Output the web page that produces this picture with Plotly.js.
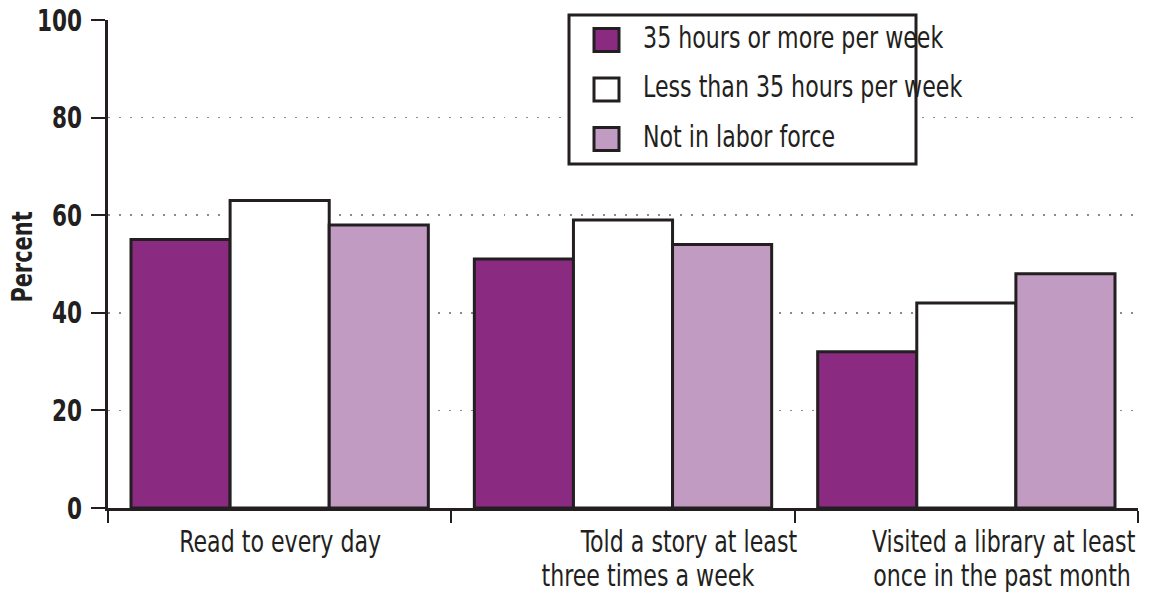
<!DOCTYPE html>
<html>
<head>
<meta charset="utf-8">
<script src="https://cdn.plot.ly/plotly-3.0.1.min.js"></script>
<style>
  html, body { margin: 0; padding: 0; background: #ffffff; }
  #chart { width: 1152px; height: 593px; }
  /* narrow the tick numbers to a condensed look */
  #chart g.ytick { transform-box: fill-box; transform-origin: right center; transform: translateX(-3px) scaleX(0.8); }
</style>
</head>
<body>
<div id="chart"></div>
<script>
// Activities with children, by parent's work status (percent)
var categories = ["Read to every day", "Told a story at least three times a week", "Visited a library at least once in the past month"];
var categoryLines = [
  ["Read to every day"],
  ["Told a story at least", "three times a week"],
  ["Visited a library at least", "once in the past month"]
];
var seriesNames = ["35 hours or more per week", "Less than 35 hours per week", "Not in labor force"];
var fullTime = [55, 51, 32];
var partTime = [63, 59, 42];
var notInLaborForce = [58, 54, 48];
var yTicks = [0, 20, 40, 60, 80, 100];

var seriesValues = [fullTime, partTime, notInLaborForce];
var seriesColors = ["#8a2a80", "#ffffff", "#c19bc2"];
var ink = "#231f20";
var fontFamily = "'DejaVu Sans Condensed', 'DejaVu Sans', sans-serif";

var W = 1152, H = 593;
var margin = { l: 108, r: 14, t: 20, b: 85 };
var plotW = W - margin.l - margin.r;
var plotH = H - margin.t - margin.b;

// pixel -> paper helpers for the hand-built legend box
function px(xPix) { return (xPix - margin.l) / plotW; }
function py(yPix) { return (H - margin.b - yPix) / plotH; }

var traces = seriesValues.map(function (vals, i) {
  return {
    type: "bar",
    name: seriesNames[i],
    x: categories,
    y: vals,
    marker: { color: seriesColors[i], line: { color: ink, width: 3 } },
    showlegend: false,
    hoverinfo: "y+name"
  };
});

// category labels, one annotation per line, nudged horizontally
var lineShift = [[0], [65, 25], [37, 36]];
var annotations = [];
var annoOrigin = [];
categoryLines.forEach(function (lines, ci) {
  lines.forEach(function (txt, li) {
    annotations.push({
      xref: "x", yref: "paper",
      x: categories[ci], y: 0,
      xanchor: "center", yanchor: "middle",
      xshift: lineShift[ci][li],
      yshift: -33 - li * 34,
      text: txt, showarrow: false,
      font: { family: fontFamily, size: 30, color: ink }
    });
    annoOrigin.push("center center");
  });
});

// legend: framed box with square swatches
var legendBox = { x0: 569, x1: 916, y0: 15, y1: 164 };
var rowCenters = [40, 89.5, 139];
var shapes = [{
  type: "rect", xref: "paper", yref: "paper", layer: "above",
  x0: px(legendBox.x0), x1: px(legendBox.x1), y0: py(legendBox.y1), y1: py(legendBox.y0),
  line: { color: ink, width: 3 }, fillcolor: "#ffffff"
}];
seriesNames.forEach(function (name, i) {
  var cy = rowCenters[i];
  shapes.push({
    type: "rect", xref: "paper", yref: "paper", layer: "above",
    x0: px(594), x1: px(619), y0: py(cy + 11.5), y1: py(cy - 11.5),
    line: { color: ink, width: 3 }, fillcolor: seriesColors[i]
  });
  annotations.push({
    xref: "paper", yref: "paper",
    x: px(641), y: py(cy - 3),
    xanchor: "left", yanchor: "middle",
    text: name, showarrow: false,
    font: { family: fontFamily, size: 30, color: ink }
  });
  annoOrigin.push("left center");
});

var layout = {
  width: W, height: H,
  margin: margin,
  paper_bgcolor: "#ffffff",
  plot_bgcolor: "#ffffff",
  barmode: "group",
  bargap: 0.134,
  bargroupgap: 0,
  font: { family: fontFamily, color: ink },
  xaxis: {
    type: "category",
    range: [-0.5, 2.5],
    tickson: "boundaries",
    ticks: "outside", ticklen: 12, tickwidth: 2, tickcolor: ink,
    showticklabels: false,
    showgrid: false, zeroline: false,
    showline: true, linecolor: ink, linewidth: 3
  },
  yaxis: {
    range: [0, 100],
    tickvals: yTicks,
    ticks: "outside", ticklen: 14, tickwidth: 2, tickcolor: ink,
    tickfont: { family: fontFamily, size: 30, weight: "bold", color: ink },
    showgrid: true, gridcolor: "#8a8a8a", gridwidth: 1.5, griddash: "1.5px,9.5px",
    zeroline: false,
    showline: true, linecolor: ink, linewidth: 3,
    title: { text: "Percent", font: { family: fontFamily, size: 28, weight: "bold", color: ink }, standoff: 6 }
  },
  shapes: shapes,
  annotations: annotations
};

Plotly.newPlot("chart", traces, layout, { displayModeBar: false, staticPlot: true }).then(function (gd) {
  // condense annotation text horizontally around its anchor
  var texts = gd.querySelectorAll(".annotation .annotation-text");
  texts.forEach(function (t, i) {
    t.style.transformBox = "fill-box";
    t.style.transformOrigin = annoOrigin[i] || "center center";
    t.style.transform = "scaleX(0.82)";
  });
  // condense the rotated axis title along its reading direction and nudge it
  var tt = gd.querySelector(".g-ytitle text");
  if (tt) {
    var tx = parseFloat(tt.getAttribute("x")), ty = parseFloat(tt.getAttribute("y"));
    var tr = tt.getAttribute("transform") || "";
    tt.setAttribute("transform", "translate(6,-7) " + tr + " translate(" + tx + "," + ty + ") scale(0.83,1) translate(" + (-tx) + "," + (-ty) + ")");
  }
});
</script>
</body>
</html>
